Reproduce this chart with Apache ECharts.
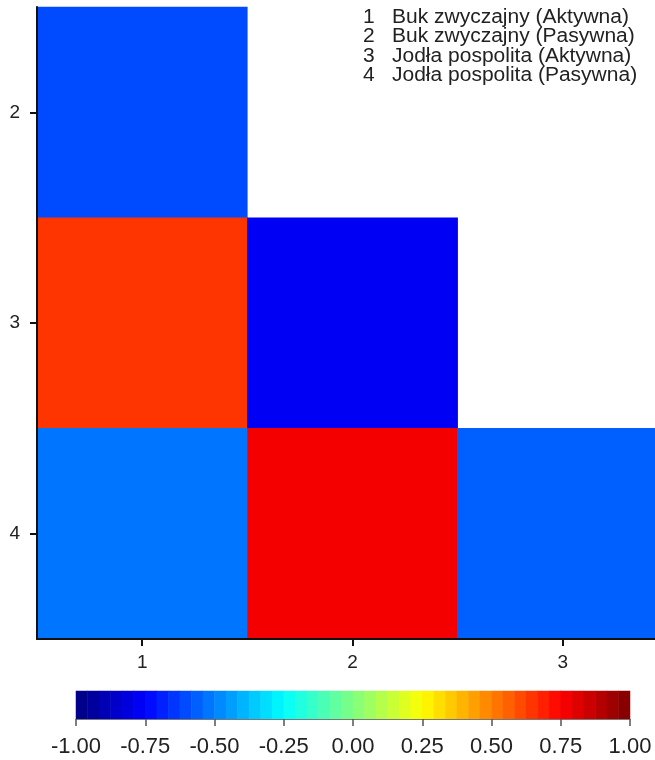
<!DOCTYPE html>
<html>
<head>
<meta charset="utf-8">
<script src="https://cdn.jsdelivr.net/npm/echarts@6/dist/echarts.min.js"></script>
<style>html,body{margin:0;padding:0;background:#fff}#c{width:655px;height:760px}</style>
</head>
<body>
<div id="c"></div>
<script>
// ---- data ----
var xCategories = ['1', '2', '3'];
var yCategories = ['2', '3', '4'];
// [xIndex, yIndex, value]
var cellValues = [
  [0, 0, -0.60],
  [0, 1, 0.64],
  [1, 1, -0.76],
  [0, 2, -0.51],
  [1, 2, 0.79],
  [2, 2, -0.56]
];
var legendNumbers = ['1', '2', '3', '4'];
var legendLabels = ['Buk zwyczajny (Aktywna)', 'Buk zwyczajny (Pasywna)', 'Jodła pospolita (Aktywna)', 'Jodła pospolita (Pasywna)'];
var scaleMin = -1, scaleMax = 1, scaleStep = 0.25, levelCount = 48;

// ---- jet colormap ----
function clamp(v) { return Math.max(0, Math.min(1, v)); }
function jet(t) {
  var r = clamp(1.5 - Math.abs(4 * t - 3));
  var g = clamp(1.5 - Math.abs(4 * t - 2));
  var b = clamp(1.5 - Math.abs(4 * t - 1));
  return 'rgb(' + Math.round(r * 255) + ',' + Math.round(g * 255) + ',' + Math.round(b * 255) + ')';
}
var pieces = [], barCats = [], barData = [];
var w = (scaleMax - scaleMin) / levelCount;
for (var i = 0; i < levelCount; i++) {
  var lo = scaleMin + i * w, hi = lo + w;
  pieces.push({ gte: lo, lt: (i === levelCount - 1 ? hi + 1e-9 : hi), color: jet((i + 0.5) / levelCount) });
  barCats.push(String(i));
  barData.push([i, 0, lo + w / 2]);
}

var font = 'Liberation Sans, Arial, sans-serif';
var graphics = [];
for (var k = 0; k < legendLabels.length; k++) {
  graphics.push({ type: 'text', x: 363, y: 7 + k * 19.5, scaleX: 1.05, style: { text: legendNumbers[k], font: '20px ' + font, fill: '#222' } });
  graphics.push({ type: 'text', x: 392, y: 7 + k * 19.5, scaleX: 1.05, style: { text: legendLabels[k], font: '20px ' + font, fill: '#222' } });
}

var chart = echarts.init(document.getElementById('c'));
chart.setOption({
  animation: false,
  backgroundColor: '#fff',
  grid: [
    { left: 37, top: 7, width: 631, height: 632, outerBoundsMode: 'none', containLabel: false },
    { left: 76, top: 691, width: 554, height: 28, outerBoundsMode: 'none', containLabel: false }
  ],
  xAxis: [
    { type: 'category', gridIndex: 0, data: xCategories, position: 'bottom', z: 10,
      axisLine: { show: true, lineStyle: { color: '#111', width: 2 } },
      axisTick: { show: true, alignWithLabel: true, length: 7, lineStyle: { color: '#111', width: 2 } },
      axisLabel: { color: '#222', fontSize: 19, fontFamily: font, margin: 14 },
      splitLine: { show: false } },
    { type: 'category', gridIndex: 1, data: barCats, show: false },
    { type: 'value', gridIndex: 1, min: scaleMin, max: scaleMax, interval: scaleStep, position: 'bottom', z: 10,
      axisLine: { show: true, lineStyle: { color: '#777', width: 1 } },
      axisTick: { show: true, length: 7, lineStyle: { color: '#555', width: 1.5 } },
      axisLabel: { color: '#222', fontSize: 22, fontFamily: font, margin: 17, formatter: function (v) { return v.toFixed(2); } },
      splitLine: { show: false } }
  ],
  yAxis: [
    { type: 'category', gridIndex: 0, data: yCategories, inverse: true, z: 10,
      axisLine: { show: true, lineStyle: { color: '#111', width: 2 } },
      axisTick: { show: true, alignWithLabel: true, length: 7, lineStyle: { color: '#111', width: 2 } },
      axisLabel: { color: '#222', fontSize: 19, fontFamily: font, margin: 17 },
      splitLine: { show: false } },
    { type: 'category', gridIndex: 1, data: ['0'], show: false }
  ],
  visualMap: { type: 'piecewise', show: false, pieces: pieces, seriesIndex: [0, 1] },
  series: [
    { type: 'heatmap', xAxisIndex: 0, yAxisIndex: 0, data: cellValues, itemStyle: { borderWidth: 0 } },
    { type: 'heatmap', xAxisIndex: 1, yAxisIndex: 1, data: barData, itemStyle: { borderWidth: 0 } }
  ],
  graphic: graphics
});
</script>
</body>
</html>
